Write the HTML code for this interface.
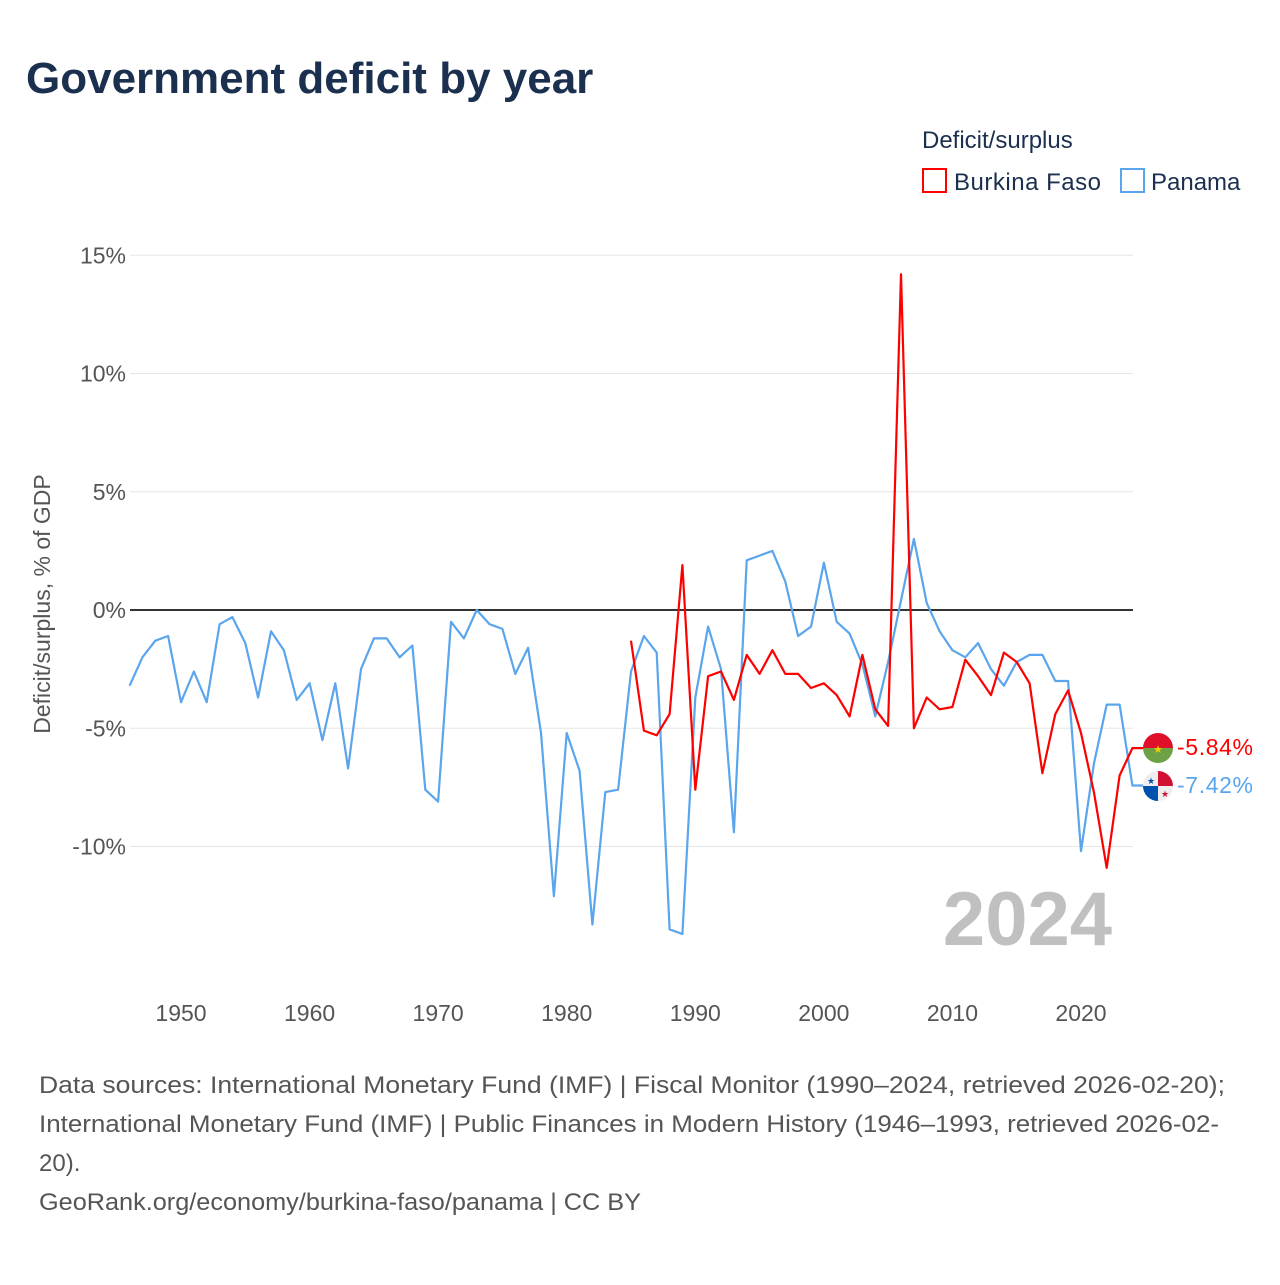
<!DOCTYPE html>
<html><head><meta charset="utf-8"><style>
body{margin:0;background:#fff;width:1280px;height:1280px;overflow:hidden;font-family:"Liberation Sans",sans-serif}
</style></head><body>
<svg width="1280" height="1280" xmlns="http://www.w3.org/2000/svg" font-family="Liberation Sans, sans-serif">
<text x="26" y="93" font-size="44" font-weight="bold" fill="#1b2f4e">Government deficit by year</text>
<text x="922" y="148" font-size="24" fill="#1b2f4e">Deficit/surplus</text>
<g><rect x="923" y="169" width="23" height="23" fill="none" stroke="#f00" stroke-width="2"/><text x="954" y="190" font-size="24" fill="#1b2f4e" textLength="147">Burkina Faso</text></g>
<g><rect x="1121" y="169" width="23" height="23" fill="none" stroke="#5aa5ec" stroke-width="2"/><text x="1151" y="190" font-size="24" fill="#1b2f4e">Panama</text></g>
<text transform="translate(50,604) rotate(-90)" text-anchor="middle" font-size="23" fill="#555">Deficit/surplus, % of GDP</text>
<g id="grid"></g><g id="lines"></g>
<text x="1112" y="945" text-anchor="end" font-size="76" font-weight="bold" fill="#c0c0c0">2024</text>
<g><clipPath id="c1"><circle cx="1158" cy="748" r="15"/></clipPath><g clip-path="url(#c1)"><rect x="1140" y="730" width="40" height="18" fill="#e0102a"/><rect x="1140" y="748" width="40" height="20" fill="#6ea146"/></g><text x="1158" y="753" text-anchor="middle" font-size="11" fill="#f5d000">★</text></g>
<g><clipPath id="c2"><circle cx="1158" cy="786" r="15"/></clipPath><g clip-path="url(#c2)"><rect x="1140" y="768" width="40" height="40" fill="#eee"/><rect x="1158" y="768" width="20" height="18" fill="#d21034"/><rect x="1140" y="786" width="18" height="20" fill="#0050b0"/></g><text x="1151" y="784" text-anchor="middle" font-size="9" fill="#0050b0">★</text><text x="1165" y="797" text-anchor="middle" font-size="9" fill="#d21034">★</text></g>
<text x="1177" y="755" font-size="23" fill="#f00" textLength="76">-5.84%</text>
<text x="1177" y="793" font-size="23" fill="#5aa5ec" textLength="76">-7.42%</text>
<g font-size="24" fill="#555">
<text x="39" y="1093" textLength="1186" lengthAdjust="spacingAndGlyphs">Data sources: International Monetary Fund (IMF) | Fiscal Monitor (1990–2024, retrieved 2026-02-20);</text>
<text x="39" y="1132" textLength="1180" lengthAdjust="spacingAndGlyphs">International Monetary Fund (IMF) | Public Finances in Modern History (1946–1993, retrieved 2026-02-</text>
<text x="39" y="1171">20).</text>
<text x="39" y="1210" textLength="602" lengthAdjust="spacingAndGlyphs">GeoRank.org/economy/burkina-faso/panama | CC BY</text>
</g>
</svg>
<script>
const yTicks=[15,10,5,0,-5,-10];
const yTickLabels=["15%","10%","5%","0%","-5%","-10%"];
const xTicks=[1950,1960,1970,1980,1990,2000,2010,2020];
const panamaStart=1946;
const panamaValues=[-3.2,-2.0,-1.3,-1.1,-3.9,-2.6,-3.9,-0.6,-0.3,-1.4,-3.7,-0.9,-1.7,-3.8,-3.1,-5.5,-3.1,-6.7,-2.5,-1.2,-1.2,-2.0,-1.5,-7.6,-8.1,-0.5,-1.2,0.0,-0.6,-0.8,-2.7,-1.6,-5.2,-12.1,-5.2,-6.8,-13.3,-7.7,-7.6,-2.6,-1.1,-1.8,-13.5,-13.7,-3.7,-0.7,-2.5,-9.4,2.1,2.3,2.5,1.2,-1.1,-0.7,2.0,-0.5,-1.0,-2.3,-4.5,-2.2,0.4,3.0,0.3,-0.9,-1.7,-2.0,-1.4,-2.5,-3.2,-2.2,-1.9,-1.9,-3.0,-3.0,-10.2,-6.5,-4.0,-4.0,-7.42];
const burkinaStart=1985;
const burkinaValues=[-1.3,-5.1,-5.3,-4.4,1.9,-7.6,-2.8,-2.6,-3.8,-1.9,-2.7,-1.7,-2.7,-2.7,-3.3,-3.1,-3.6,-4.5,-1.9,-4.2,-4.9,14.2,-5.0,-3.7,-4.2,-4.1,-2.1,-2.8,-3.6,-1.8,-2.2,-3.1,-6.9,-4.4,-3.4,-5.2,-7.7,-10.9,-7.0,-5.84];
const NS="http://www.w3.org/2000/svg";
const X=yr=>181+(yr-1950)*900/70;
const Y=v=>610-v*23.65;
const grid=document.getElementById('grid'),lines=document.getElementById('lines');
function mk(tag,attrs,parent){const e=document.createElementNS(NS,tag);for(const k in attrs)e.setAttribute(k,attrs[k]);parent.appendChild(e);return e;}
yTicks.forEach((t,i)=>{
  const l=mk('line',{x1:130,x2:1133,y1:Y(t),y2:Y(t),stroke:t===0?'#333':'#e6e6e6','stroke-width':t===0?2:1},grid);
  
  
  const tx=mk('text',{x:126,y:Y(t)+8,'text-anchor':'end','font-size':23,fill:'#555'},grid);
  tx.textContent=yTickLabels[i];
  
  
});
xTicks.forEach(t=>{
  const tx=mk('text',{x:X(t),y:1021,'text-anchor':'middle','font-size':23,fill:'#555'},grid);
  tx.textContent=t;
  
  
});
function series(vals,start,color,name){
  const pts=vals.map((v,i)=>X(start+i).toFixed(1)+','+Y(v).toFixed(1));
  const last=vals[vals.length-1];
  pts.push((X(start+vals.length-1)+12).toFixed(1)+','+Y(last).toFixed(1));
  const p=mk('polyline',{points:pts.join(' '),fill:'none',stroke:color,'stroke-width':2.2,'stroke-linejoin':'round'},lines);
  
  
}
series(panamaValues,panamaStart,'#5aa5ec','line-panama');
series(burkinaValues,burkinaStart,'#ff0000','line-burkina-faso');
</script>
</body></html>
